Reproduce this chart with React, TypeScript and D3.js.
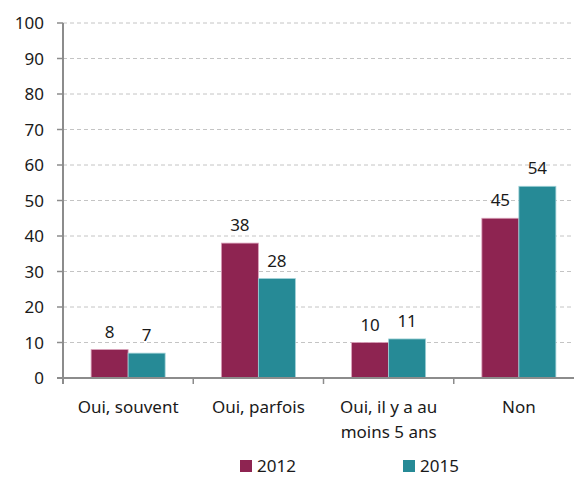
import React from "react";
import * as d3 from "d3";

const categories: string[][] = [["Oui, souvent"], ["Oui, parfois"], ["Oui, il y a au", "moins 5 ans"], ["Non"]];
const series = ["2012", "2015"];
const values2012 = [8, 38, 10, 45];
const values2015 = [7, 28, 11, 54];
const yTicks = [0, 10, 20, 30, 40, 50, 60, 70, 80, 90, 100];
const colors = ["#8E2451", "#268A96"];

const W = 574, H = 477;
const left = 63, right = 584, top = 23, bottom = 378;
const font = "'Noto Sans', sans-serif";

export default function App() {
  const x0 = d3.scaleBand<number>().domain(d3.range(categories.length)).range([left, right]).paddingInner(0).paddingOuter(0);
  const x1 = d3.scaleBand<number>().domain([0, 1]).range([0, x0.bandwidth()]).paddingOuter(0.76).paddingInner(0);
  const y = d3.scaleLinear().domain([0, 100]).range([bottom, top]);
  const data = [values2012, values2015];
  return (
    <svg width={W} height={H} style={{ position: "absolute", left: 0, top: 0 }} fontFamily={font}>
      {yTicks.map((t) => (
        <g key={t}>
          {t > 0 && (
            <line x1={left} x2={W} y1={y(t)} y2={y(t)} stroke="#c4c4c4" strokeWidth={1} strokeDasharray="4,3" />
          )}
          <line x1={57} x2={left} y1={y(t)} y2={y(t)} stroke="#8c8c8c" strokeWidth={1.5} />
          <text x={44} y={y(t)} dy="0.36em" textAnchor="end" fontSize={17} fill="#1a1a1a">{t}</text>
        </g>
      ))}
      {categories.map((c, i) => (
        <g key={i}>
          {data.map((vals, s) => (
            <rect
              key={s}
              x={x0(i)! + x1(s)!}
              y={y(vals[i])}
              width={x1.bandwidth()}
              height={bottom - y(vals[i])}
              fill={colors[s]}
              stroke={s === 0 ? "#d9a0b8" : "#9fd0d6"}
              strokeWidth={0.8}
            />
          ))}
          {data.map((vals, s) => (
            <text
              key={"l" + s}
              x={x0(i)! + x1(s)! + x1.bandwidth() / 2}
              y={y(vals[i]) - 12}
              textAnchor="middle"
              fontSize={17}
              fill="#1a1a1a"
            >
              {vals[i]}
            </text>
          ))}
          <text textAnchor="middle" fontSize={17} fill="#1a1a1a">
            {c.map((line, k) => (
              <tspan key={k} x={x0(i)! + x0.bandwidth() / 2} y={413 + k * 25}>{line}</tspan>
            ))}
          </text>
          {i > 0 && <line x1={x0(i)!} x2={x0(i)!} y1={bottom} y2={bottom + 6} stroke="#8c8c8c" strokeWidth={1.5} />}
        </g>
      ))}
      <line x1={left} x2={left} y1={top} y2={bottom + 6} stroke="#8c8c8c" strokeWidth={2} />
      <line x1={left - 6} x2={W} y1={bottom} y2={bottom} stroke="#8c8c8c" strokeWidth={2} />
      {series.map((s, k) => (
        <g key={s} transform={`translate(${k === 0 ? 240 : 403},460)`}>
          <rect width={12} height={12} fill={colors[k]} />
          <text x={17} y={12} fontSize={17} fill="#1a1a1a">{s}</text>
        </g>
      ))}
    </svg>
  );
}
